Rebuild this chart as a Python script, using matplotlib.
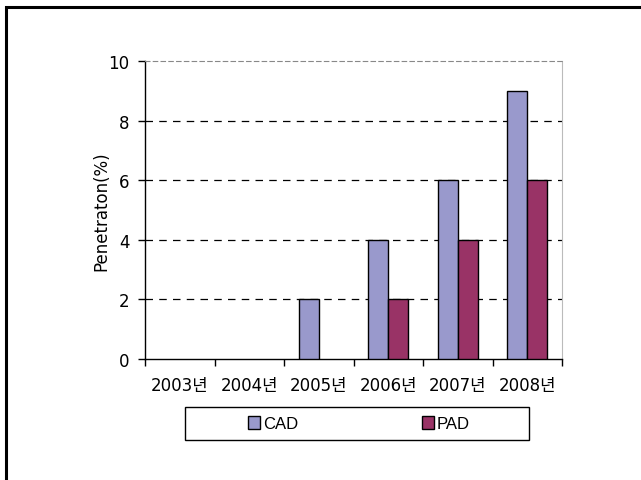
import numpy as np
import matplotlib.pyplot as plt
from matplotlib.patches import Rectangle

plt.rcParams['font.family'] = ['DejaVu Sans', 'Noto Sans CJK KR']

years = ['2003년', '2004년', '2005년', '2006년', '2007년', '2008년']
cad = [0, 0, 2, 4, 6, 9]
pad = [0, 0, 0, 2, 4, 6]

fig = plt.figure(figsize=(6.41, 4.81), dpi=100)
# outer slide frame (only left/top edges fall inside the image)
fig.patches.append(Rectangle((6 / 641, -0.1), 1.2, 1 - 8 / 481 + 0.1, transform=fig.transFigure,
                             fill=False, edgecolor='black', linewidth=2.2))

ax = fig.add_axes([145 / 641, 1 - 360 / 481, 417 / 641, 298 / 481])
x = np.arange(len(years))
w = 1 / 3.5
# zero-height bars get no outline
lw_cad = [1 if v else 0 for v in cad]
lw_pad = [1 if v else 0 for v in pad]
ax.bar(x - w / 2, cad, w, color='#9999CC', edgecolor='black', linewidth=lw_cad, label='CAD', zorder=3)
ax.bar(x + w / 2, pad, w, color='#993366', edgecolor='black', linewidth=lw_pad, label='PAD', zorder=3)

ax.set_xlim(-0.5, len(years) - 0.5)
ax.set_ylim(0, 10)
ax.set_yticks([0, 2, 4, 6, 8, 10])
ax.set_xticks(x)
ax.set_xticklabels(years, fontsize=12)
ax.set_xticks(np.arange(-0.5, len(years)), minor=True)
ax.tick_params(axis='x', which='major', length=0, pad=12)
ax.tick_params(axis='x', which='minor', length=5, direction='out', width=1)
ax.tick_params(axis='y', length=5, width=1, labelsize=12, pad=6)
for yv in [2, 4, 6, 8]:
    ax.axhline(yv, color='black', linestyle=(0, (6, 5)), linewidth=0.9, zorder=1)
ax.spines['top'].set_color('#888888')
ax.spines['top'].set_linestyle((0, (4, 3)))
ax.spines['right'].set_color('#bbbbbb')
ax.spines['left'].set_linewidth(1)
ax.spines['bottom'].set_linewidth(1)
ax.set_ylabel('Penetraton(%)', fontsize=12, labelpad=-1)

# legend box
fig.patches.append(Rectangle((185 / 641, 1 - 441 / 481), 344 / 641, 33 / 481,
                             transform=fig.transFigure, fill=False, edgecolor='black', linewidth=1))
leg = fig.legend(loc='center', bbox_to_anchor=(359 / 641, 1 - 424.5 / 481), ncol=2,
                 prop={'family': 'Liberation Sans', 'size': 12},
                 frameon=False, handlelength=0.72, handleheight=0.85,
                 handletextpad=0.2, columnspacing=7.4)
for h in leg.legend_handles:
    h.set_edgecolor('black')
    h.set_linewidth(1)

fig.savefig('out.png', dpi=100)
